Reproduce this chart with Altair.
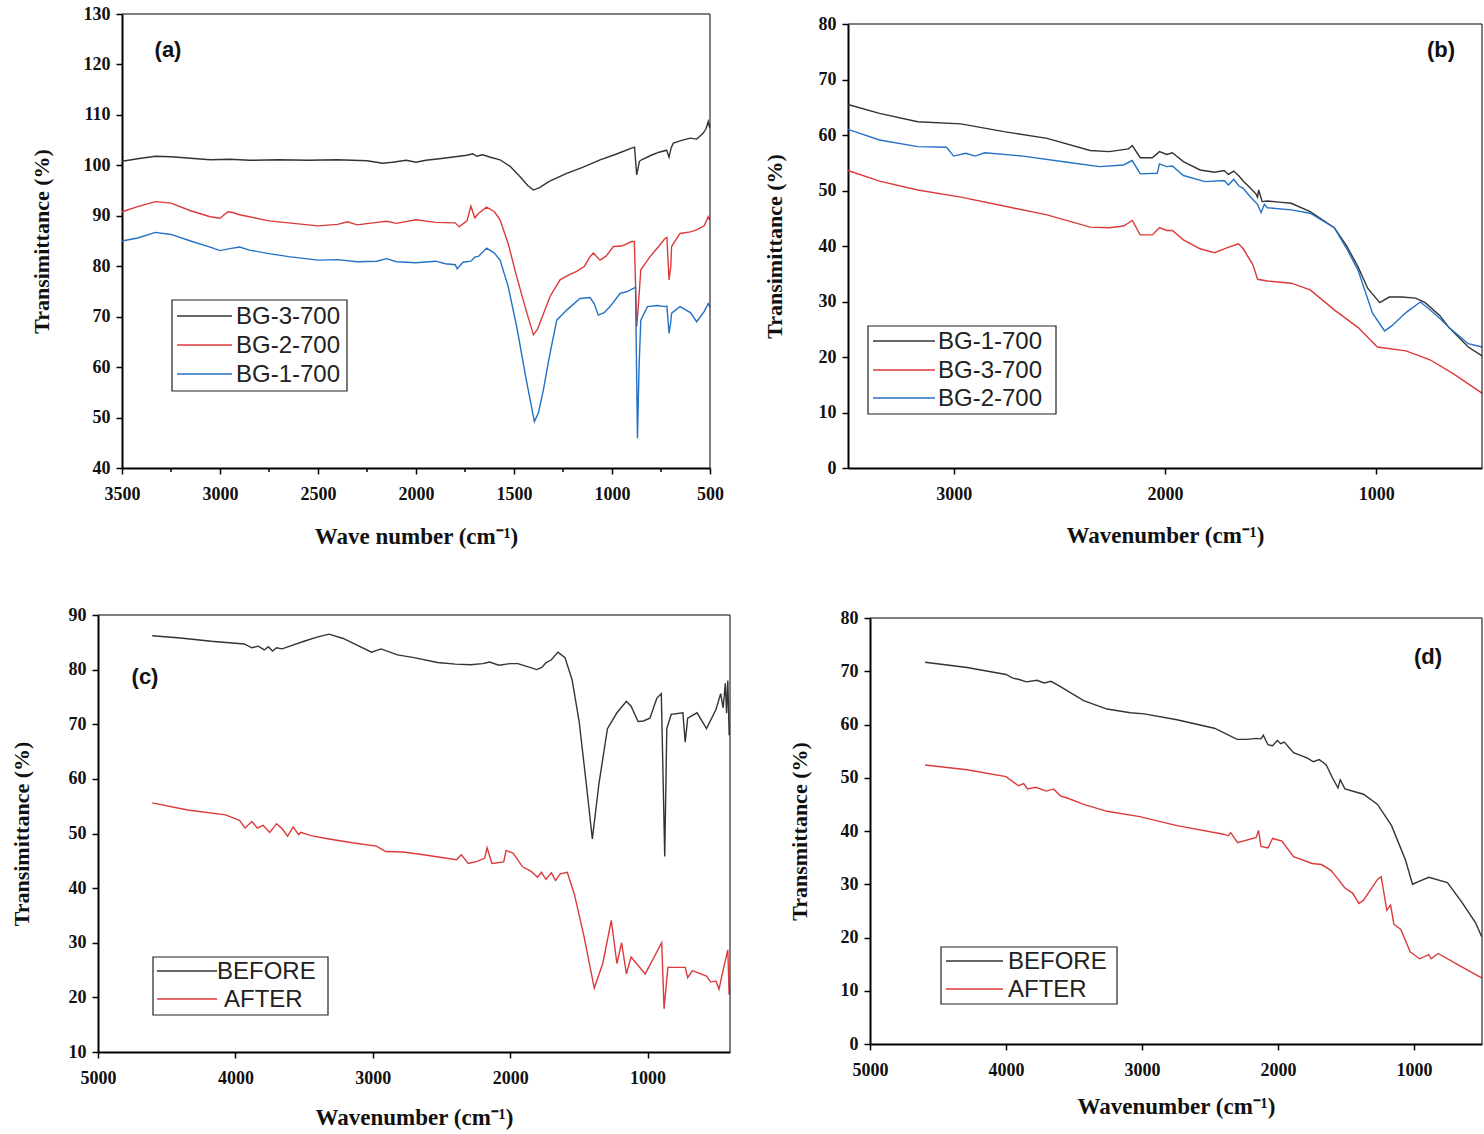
import altair as alt
import pandas as pd

BLACK = "#333333"
RED = "#dc3a3a"
BLUE = "#2471c6"

# ---------------- panel (a) ----------------
A_NAMES = ["BG-3-700", "BG-2-700", "BG-1-700"]
A_COLORS = [BLACK, RED, BLUE]
A_XTICKS = [3500, 3000, 2500, 2000, 1500, 1000, 500]
A_XMINOR = [3250, 2750, 2250, 1750, 1250, 750]
A_YTICKS = [40, 50, 60, 70, 80, 90, 100, 110, 120, 130]

A_BG3_WN = [3500, 3420, 3330, 3250, 3150, 3050, 2950, 2850, 2700, 2550, 2400, 2250, 2170, 2120, 2050,
            2000, 1950, 1880, 1800, 1740, 1710, 1690, 1660, 1620, 1571, 1520, 1470, 1430, 1401, 1370,
            1320, 1231, 1150, 1061, 980, 900, 885, 874, 860, 849, 800, 760, 721, 709, 698, 687, 640,
            600, 568, 545, 534, 520, 509, 502]
A_BG3_T = [100.8, 101.3, 101.8, 101.7, 101.4, 101.1, 101.2, 101.0, 101.1, 101.0, 101.1, 100.9, 100.4,
           100.6, 101.0, 100.6, 101.0, 101.3, 101.7, 102.0, 102.3, 101.8, 102.1, 101.6, 101.1, 99.8,
           97.8, 96.0, 95.1, 95.6, 96.8, 98.4, 99.6, 101.1, 102.2, 103.4, 103.6, 98.1, 100.8, 101.1,
           102.0, 102.6, 103.0, 101.6, 103.5, 104.4, 105.0, 105.4, 105.2, 106.0, 106.4, 107.3, 108.7, 107.5]

A_BG2_WN = [3500, 3420, 3330, 3250, 3150, 3050, 3000, 2960, 2930, 2900, 2850, 2750, 2650, 2500, 2400,
            2350, 2300, 2200, 2150, 2100, 2000, 1900, 1800, 1780, 1740, 1720, 1700, 1680, 1640, 1600,
            1571, 1530, 1486, 1440, 1401, 1380, 1316, 1265, 1220, 1180, 1140, 1112, 1095, 1061, 1030,
            993, 950, 900, 886, 874, 866, 853, 806, 760, 730, 720, 709, 700, 696, 653, 600, 568, 530,
            509, 502]
A_BG2_T = [90.8, 91.8, 92.8, 92.5, 91.0, 89.8, 89.5, 90.8, 90.6, 90.2, 89.8, 89.0, 88.6, 88.0, 88.3,
           88.8, 88.2, 88.7, 88.9, 88.5, 89.2, 88.7, 88.6, 87.8, 89.0, 91.9, 89.6, 90.5, 91.7, 90.8,
           89.2, 84.5, 77.9, 71.5, 66.4, 67.5, 74.0, 77.3, 78.3, 79.0, 80.0, 81.9, 82.6, 81.2, 82.0,
           83.9, 84.0, 84.9, 84.9, 68.0, 72.0, 79.3, 81.9, 84.0, 85.5, 85.7, 77.3, 80.0, 83.9, 86.5,
           86.8, 87.2, 88.0, 89.8, 89.2]

A_BG1_WN = [3500, 3420, 3330, 3250, 3150, 3050, 3000, 2950, 2900, 2850, 2750, 2650, 2500, 2400, 2300,
            2200, 2150, 2100, 2000, 1900, 1850, 1800, 1790, 1760, 1720, 1700, 1680, 1640, 1600, 1571,
            1530, 1486, 1440, 1396, 1375, 1350, 1320, 1282, 1231, 1163, 1112, 1090, 1070, 1040, 1010,
            959, 920, 891, 880, 870, 862, 853, 819, 770, 730, 720, 709, 700, 696, 653, 600, 568, 530,
            509, 502]
A_BG1_T = [85.0, 85.6, 86.7, 86.3, 85.0, 83.8, 83.1, 83.5, 83.8, 83.2, 82.5, 81.9, 81.2, 81.3, 80.9,
           81.0, 81.5, 80.9, 80.7, 81.0, 80.5, 80.3, 79.5, 80.8, 81.0, 81.8, 82.0, 83.6, 82.6, 81.2,
           76.0, 68.0, 58.0, 49.2, 51.0, 55.5, 62.0, 69.3, 71.3, 73.6, 73.8, 72.5, 70.3, 70.8, 72.0,
           74.6, 75.0, 75.6, 75.8, 45.9, 60.0, 69.3, 72.0, 72.2, 72.0, 72.1, 66.7, 69.0, 70.7, 72.0,
           70.8, 69.0, 71.0, 72.6, 72.0]

# ---------------- panel (b) ----------------
B_NAMES = ["BG-1-700", "BG-3-700", "BG-2-700"]
B_COLORS = [BLACK, RED, BLUE]
B_XTICKS = [3000, 2000, 1000]
B_YTICKS = [0, 10, 20, 30, 40, 50, 60, 70, 80]

B_BG1_WN = [3500, 3351, 3170, 2966, 2762, 2558, 2354, 2264, 2173, 2155, 2117, 2060, 2026, 1992, 1965,
            1913, 1834, 1766, 1720, 1700, 1675, 1650, 1630, 1600, 1570, 1562, 1557, 1540, 1516, 1460,
            1403, 1313, 1199, 1140, 1086, 1041, 984, 939, 880, 814, 769, 700, 656, 565, 500]
B_BG1_T = [65.5, 63.9, 62.4, 62.0, 60.6, 59.4, 57.2, 57.0, 57.5, 58.1, 55.9, 55.9, 57.0, 56.5, 56.8,
           55.2, 53.7, 53.3, 53.6, 52.9, 53.5, 52.6, 51.7, 50.6, 49.4, 48.8, 50.1, 48.0, 48.1, 47.9,
           47.7, 46.2, 43.3, 40.0, 36.2, 32.4, 29.8, 30.8, 30.8, 30.6, 29.8, 27.5, 25.3, 21.8, 20.2]

B_BG3_WN = [3500, 3351, 3170, 2966, 2762, 2558, 2354, 2264, 2196, 2155, 2117, 2060, 2026, 1992, 1965,
            1913, 1834, 1766, 1698, 1652, 1630, 1584, 1562, 1516, 1403, 1313, 1199, 1086, 995, 860,
            746, 633, 500]
B_BG3_T = [53.6, 51.7, 50.1, 48.8, 47.2, 45.6, 43.4, 43.3, 43.6, 44.6, 42.0, 42.0, 43.3, 42.8, 42.8,
           41.1, 39.5, 38.8, 39.8, 40.4, 39.5, 36.6, 34.0, 33.7, 33.3, 32.1, 28.5, 25.3, 21.8, 21.1,
           19.5, 16.9, 13.5]

B_BG2_WN = [3500, 3351, 3170, 3034, 3000, 2943, 2898, 2853, 2672, 2445, 2309, 2196, 2155, 2117, 2037,
            2026, 1992, 1965, 1913, 1811, 1720, 1700, 1675, 1650, 1630, 1600, 1562, 1545, 1530, 1516,
            1403, 1313, 1199, 1140, 1086, 1018, 961, 927, 860, 792, 746, 700, 656, 565, 500]
B_BG2_T = [61.0, 59.1, 57.9, 57.8, 56.2, 56.7, 56.2, 56.8, 56.2, 55.0, 54.3, 54.6, 55.4, 53.0, 53.1,
           54.8, 54.3, 54.4, 52.7, 51.6, 51.8, 51.0, 52.0, 50.8, 50.4, 49.0, 47.5, 46.0, 47.5, 46.9,
           46.5, 45.9, 43.3, 39.5, 35.6, 27.9, 24.7, 25.6, 28.0, 29.9, 28.5, 27.0, 25.3, 22.4, 21.8]

# ---------------- panel (c) ----------------
CD_NAMES = ["BEFORE", "AFTER"]
CD_COLORS = [BLACK, RED]
CD_XTICKS = [5000, 4000, 3000, 2000, 1000]
C_YTICKS = [10, 20, 30, 40, 50, 60, 70, 80, 90]

C_BEFORE_WN = [4605, 4400, 4176, 3936, 3880, 3833, 3790, 3760, 3730, 3700, 3660, 3592, 3500, 3400, 3318,
               3215, 3100, 3009, 2940, 2820, 2700, 2528, 2400, 2288, 2200, 2150, 2082, 2000, 1944, 1880,
               1807, 1770, 1738, 1700, 1652, 1601, 1549, 1498, 1446, 1402, 1354, 1292, 1223, 1154, 1120,
               1069, 1030, 983, 932, 900, 875, 860, 828, 743, 726, 708, 640, 571, 502, 468, 450, 434,
               425, 416, 406]
C_BEFORE_T = [86.2, 85.8, 85.2, 84.7, 84.0, 84.3, 83.6, 84.2, 83.4, 84.0, 83.8, 84.4, 85.2, 86.0, 86.5,
              85.7, 84.3, 83.2, 83.8, 82.7, 82.2, 81.3, 81.0, 80.9, 81.1, 81.4, 80.8, 81.1, 81.1, 80.6,
              80.0, 80.4, 81.3, 81.8, 83.2, 82.2, 78.1, 70.5, 59.1, 49.0, 59.1, 69.2, 72.1, 74.2, 73.3,
              70.5, 70.6, 71.1, 74.8, 75.6, 45.8, 69.2, 71.8, 72.1, 66.7, 71.1, 72.1, 69.2, 72.7, 75.6,
              73.0, 77.5, 72.0, 78.0, 68.0]

C_AFTER_WN = [4605, 4348, 4073, 3970, 3930, 3880, 3840, 3798, 3750, 3700, 3661, 3620, 3580, 3540, 3524,
              3450, 3318, 3150, 2974, 2906, 2780, 2631, 2391, 2356, 2305, 2240, 2185, 2168, 2133, 2047,
              2030, 1979, 1910, 1850, 1800, 1773, 1740, 1700, 1670, 1635, 1584, 1532, 1463, 1388, 1326,
              1264, 1223, 1189, 1154, 1120, 1017, 897, 880, 852, 726, 708, 674, 571, 540, 502, 480, 451,
              416, 406]
C_AFTER_T = [55.6, 54.3, 53.4, 52.4, 51.0, 52.2, 51.0, 51.5, 50.2, 51.8, 50.9, 49.5, 51.2, 49.8, 50.2,
             49.6, 49.0, 48.3, 47.7, 46.7, 46.6, 46.1, 45.2, 46.1, 44.5, 44.9, 45.5, 47.4, 44.5, 44.8,
             46.9, 46.4, 43.9, 43.1, 42.0, 42.9, 41.6, 42.8, 41.4, 42.6, 42.9, 38.8, 31.2, 21.7, 26.2,
             34.1, 26.2, 30.0, 24.3, 27.4, 24.3, 30.0, 17.9, 25.5, 25.5, 23.6, 24.9, 23.9, 22.8, 23.0,
             21.5, 24.9, 28.7, 20.5]

# ---------------- panel (d) ----------------
D_YTICKS = [0, 10, 20, 30, 40, 50, 60, 70, 80]

D_BEFORE_WN = [4595, 4286, 4000, 3950, 3909, 3850, 3772, 3720, 3669, 3600, 3429, 3257, 3086, 2983, 2743,
               2468, 2300, 2228, 2160, 2125, 2108, 2074, 2040, 2005, 1980, 1954, 1886, 1783, 1740, 1697,
               1670, 1645, 1600, 1559, 1542, 1508, 1371, 1268, 1165, 1062, 1011, 959, 891, 754, 650,
               548, 503]
D_BEFORE_T = [71.7, 70.7, 69.4, 68.7, 68.5, 68.0, 68.3, 67.8, 68.1, 67.1, 64.5, 62.9, 62.2, 62.0, 60.9,
              59.3, 57.2, 57.2, 57.4, 57.3, 58.0, 56.2, 56.0, 57.0, 56.4, 56.7, 54.7, 53.7, 53.0, 53.4,
              52.9, 52.4, 50.0, 48.1, 49.6, 47.9, 46.9, 45.0, 41.0, 34.5, 30.0, 30.6, 31.3, 30.3, 26.7,
              22.8, 20.2]

D_AFTER_WN = [4595, 4286, 4000, 3909, 3870, 3841, 3780, 3703, 3650, 3600, 3550, 3429, 3257, 3017, 2743,
              2400, 2365, 2348, 2297, 2160, 2143, 2125, 2074, 2040, 1971, 1886, 1749, 1680, 1611, 1560,
              1508, 1450, 1405, 1371, 1268, 1241, 1200, 1172, 1148, 1097, 1028, 959, 891, 874, 822, 685,
              503]
D_AFTER_T = [52.4, 51.5, 50.2, 48.5, 48.9, 47.9, 48.2, 47.5, 47.9, 46.6, 46.2, 45.0, 43.7, 42.7, 41.0,
             39.4, 39.1, 39.7, 37.8, 38.8, 40.1, 37.1, 36.8, 38.6, 38.1, 35.2, 33.9, 33.7, 32.6, 31.0,
             29.3, 28.3, 26.4, 27.0, 30.9, 31.4, 25.1, 26.1, 22.5, 21.5, 17.3, 16.0, 16.8, 16.0, 17.0,
             15.0, 12.4]

SERIF = "Liberation Serif"
SANS = "Liberation Sans"
DUMMY = pd.DataFrame({"k": [0]})
W, H = 1484, 1134


def long_df(names, wns, ts):
    rows = []
    for n, w, t in zip(names, wns, ts):
        for a, b in zip(w, t):
            rows.append({"wn": a, "T": b, "s": n})
    return pd.DataFrame(rows)


def panel_layers(df, names, colors, xdom, ydom, frame, xticks, yticks, xtitle, ytitle, xtp, ytp,
                 label, label_xy, legend_box, legend_rows, line_x, minor=None):
    x0, x1, y0, y1 = frame
    xs = alt.Scale(domain=xdom, range=[x1, x0], nice=False, zero=False)
    ys = alt.Scale(domain=ydom, range=[y1, y0], nice=False, zero=False)
    xaxis = alt.Axis(orient="bottom", offset=y1 - H, values=xticks, format="d", title=xtitle,
                     titlePadding=xtp)
    yaxis = alt.Axis(orient="left", offset=-x0, values=yticks, format="d", title=ytitle,
                     titlePadding=ytp)
    layers = [alt.Chart(df).mark_line(strokeWidth=1.4).encode(
        x=alt.X("wn:Q", scale=xs, axis=xaxis),
        y=alt.Y("T:Q", scale=ys, axis=yaxis),
        color=alt.Color("s:N", scale=alt.Scale(domain=names, range=colors), legend=None),
    )]
    # frame: top and right borders
    layers.append(alt.Chart(DUMMY).mark_rule(color="black", strokeWidth=1).encode(
        x=alt.value(x0), x2=alt.value(x1), y=alt.value(y0)))
    layers.append(alt.Chart(DUMMY).mark_rule(color="black", strokeWidth=1).encode(
        x=alt.value(x1), y=alt.value(y0), y2=alt.value(y1)))
    if minor is not None:
        layers.append(alt.Chart(pd.DataFrame({"wn": minor})).mark_rule(color="black", strokeWidth=1.5).encode(
            x=alt.X("wn:Q", scale=xs, axis=None), y=alt.value(y1), y2=alt.value(y1 + 4)))
    layers.append(alt.Chart(DUMMY).mark_text(font=SANS, fontWeight="bold", fontSize=22, color="#111",
                                             align="center", baseline="middle").encode(
        x=alt.value(label_xy[0]), y=alt.value(label_xy[1]), text=alt.value(label)))
    bx1, bx2, by1, by2 = legend_box
    layers.append(alt.Chart(DUMMY).mark_rect(fill="white", stroke="#222", strokeWidth=1.2).encode(
        x=alt.value(bx1), x2=alt.value(bx2), y=alt.value(by1), y2=alt.value(by2)))
    for name, col, yy, tx in legend_rows:
        layers.append(alt.Chart(DUMMY).mark_rule(color=col, strokeWidth=1.6).encode(
            x=alt.value(line_x[0]), x2=alt.value(line_x[1]), y=alt.value(yy)))
        layers.append(alt.Chart(DUMMY).mark_text(font=SANS, fontSize=24, color="#222", align="left",
                                                 baseline="middle").encode(
            x=alt.value(tx), y=alt.value(yy + 1), text=alt.value(name)))
    return layers


df_a = long_df(A_NAMES, [A_BG3_WN, A_BG2_WN, A_BG1_WN], [A_BG3_T, A_BG2_T, A_BG1_T])
df_b = long_df(B_NAMES, [B_BG1_WN, B_BG3_WN, B_BG2_WN], [B_BG1_T, B_BG3_T, B_BG2_T])
df_c = long_df(CD_NAMES, [C_BEFORE_WN, C_AFTER_WN], [C_BEFORE_T, C_AFTER_T])
df_d = long_df(CD_NAMES, [D_BEFORE_WN, D_AFTER_WN], [D_BEFORE_T, D_AFTER_T])

XT_A = "Wave number (cm\u207b\u00b9)"
XT = "Wavenumber (cm\u207b\u00b9)"
YT = "Transimittance (%)"
YT_D = "Transmittance (%)"

layers = []
layers += panel_layers(df_a, A_NAMES, A_COLORS, [500, 3500], [40, 130], (122, 710, 14, 468),
                       A_XTICKS, A_YTICKS, XT_A, YT, 22, 30, "(a)", (168, 50),
                       (172, 347, 300, 391),
                       [(A_NAMES[0], BLACK, 316, 236), (A_NAMES[1], RED, 345, 236), (A_NAMES[2], BLUE, 374, 236)],
                       (177, 232), minor=A_XMINOR)
layers += panel_layers(df_b, B_NAMES, B_COLORS, [500, 3500], [0, 80], (848, 1482, 24, 468),
                       B_XTICKS, B_YTICKS, XT, YT, 21, 32, "(b)", (1441, 50),
                       (868, 1056, 326, 414),
                       [(B_NAMES[0], BLACK, 341, 938), (B_NAMES[1], RED, 370, 938), (B_NAMES[2], BLUE, 398, 938)],
                       (873, 935))
layers += panel_layers(df_c, CD_NAMES, CD_COLORS, [400, 5000], [10, 90], (98, 730, 615, 1052),
                       CD_XTICKS, C_YTICKS, XT, YT, 19, 35, "(c)", (145, 677),
                       (153, 328, 957, 1015),
                       [(CD_NAMES[0], BLACK, 971, 217), (CD_NAMES[1], RED, 999, 224)],
                       (157, 217))
layers += panel_layers(df_d, CD_NAMES, CD_COLORS, [500, 5000], [0, 80], (870, 1482, 618, 1044),
                       CD_XTICKS, D_YTICKS, XT, YT_D, 16, 29, "(d)", (1428, 657),
                       (941, 1117, 947, 1004),
                       [(CD_NAMES[0], BLACK, 961, 1008), (CD_NAMES[1], RED, 989, 1008)],
                       (946, 1003))

chart = alt.layer(*layers).resolve_scale(
    x="independent", y="independent", color="independent"
).resolve_axis(
    x="independent", y="independent"
).properties(
    width=W, height=H,
    autosize=alt.AutoSizeParams(type="none"),
    padding={"left": 0, "top": 0, "right": 0, "bottom": 0},
).configure_view(strokeWidth=0).configure_axis(
    grid=False,
    domainColor="black", domainWidth=2,
    tickColor="black", tickWidth=1.5, tickSize=6,
    labelFont=SERIF, labelFontWeight="bold", labelFontSize=18, labelColor="#111",
    labelPadding=6,
    titleFont=SERIF, titleFontWeight="bold", titleColor="#111",
    labelFlush=False, labelOverlap=False,
).configure_axisX(labelPadding=11, titleFontSize=23).configure_axisY(titleFontSize=22)

chart.save("out.html", embed_options={"renderer": "svg", "actions": False})
